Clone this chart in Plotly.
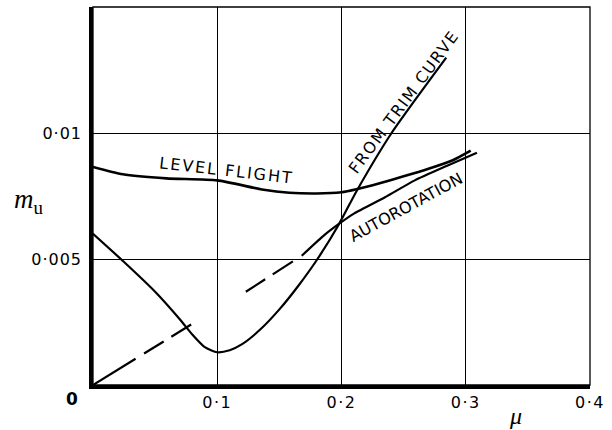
import plotly.graph_objects as go

# ---- data ----
level_x = [0, 0.024, 0.059, 0.1, 0.136, 0.158, 0.18, 0.2, 0.212, 0.23, 0.25, 0.27, 0.29, 0.304]
level_y = [0.00865, 0.00836, 0.0082, 0.00812, 0.00776, 0.00763, 0.00760, 0.00765, 0.00777, 0.00800, 0.00828, 0.00858, 0.00893, 0.0093]

trim_x = [0, 0.025, 0.05, 0.07, 0.08, 0.09, 0.1, 0.11, 0.12, 0.135, 0.15, 0.165, 0.18, 0.1976, 0.2122, 0.2403, 0.2843]
trim_y = [0.0060, 0.00488, 0.0037, 0.0026, 0.0020, 0.0015, 0.0013, 0.00138, 0.00162, 0.00222, 0.0030, 0.00392, 0.00495, 0.00635, 0.0077, 0.0100, 0.01299]

auto_dash1_x = [0, 0.079]
auto_dash1_y = [0, 0.0024]
auto_dash2_x = [0.123, 0.168]
auto_dash2_y = [0.0037, 0.00513]
auto_x = [0.168, 0.185, 0.1976, 0.21, 0.235, 0.259, 0.285, 0.309]
auto_y = [0.00513, 0.0059, 0.00638, 0.0068, 0.00745, 0.00812, 0.0087, 0.00922]

x_ticks = [0.1, 0.2, 0.3, 0.4]
x_ticktext = ["0·1", "0·2", "0·3", "0·4"]
y_ticks = [0.005, 0.01]
y_ticktext = ["0·005", "0·01"]

FONT = "DejaVu Sans"
BLACK = "#000000"


def spaced(t, px):
    return '<span style="letter-spacing:%spx">%s</span>' % (px, t)


fig = go.Figure()

fig.add_trace(go.Scatter(x=level_x, y=level_y, mode="lines",
                         line=dict(color=BLACK, width=2.6, shape="spline", smoothing=0.6)))
fig.add_trace(go.Scatter(x=trim_x, y=trim_y, mode="lines",
                         line=dict(color=BLACK, width=2.2, shape="spline", smoothing=0.6)))
fig.add_trace(go.Scatter(x=auto_dash1_x, y=auto_dash1_y, mode="lines",
                         line=dict(color=BLACK, width=2.2, dash="50px,10px,23px,9px,24px")))
fig.add_trace(go.Scatter(x=auto_dash2_x, y=auto_dash2_y, mode="lines",
                         line=dict(color=BLACK, width=2.2, dash="23px,9px,24px,12px")))
fig.add_trace(go.Scatter(x=auto_x, y=auto_y, mode="lines",
                         line=dict(color=BLACK, width=2.2, shape="spline", smoothing=0.6)))

label_font = dict(family=FONT, size=16, color=BLACK)
fig.add_annotation(x=0.1076, y=0.00852, text=spaced("LEVEL FLIGHT", 2),
                   showarrow=False, textangle=6.6, font=label_font,
                   xanchor="center", yanchor="middle")
fig.add_annotation(x=0.2496, y=0.01123, text=spaced("FROM TRIM CURVE", 1.5),
                   showarrow=False, textangle=-53.5, font=label_font,
                   xanchor="center", yanchor="middle")
fig.add_annotation(x=0.2516, y=0.00704, text="AUTOROTATION",
                   showarrow=False, textangle=-28.5, font=label_font,
                   xanchor="center", yanchor="middle")

# origin label and axis titles
fig.add_annotation(x=0, y=0, text="<b>0</b>", showarrow=False,
                   font=dict(family=FONT, size=17, color=BLACK),
                   xanchor="center", yanchor="middle", xshift=-21, yshift=-14)
fig.add_annotation(x=0.34, y=0, text="<i>μ</i>", showarrow=False,
                   font=dict(family="Liberation Serif", size=24, color=BLACK),
                   xanchor="center", yanchor="middle", yshift=-31)
fig.add_annotation(x=0, xref="paper", y=0.00731, text="<i>m</i><sub>u</sub>", showarrow=False,
                   font=dict(family="Liberation Serif", size=27, color=BLACK),
                   xanchor="center", yanchor="middle", xshift=-64)

# thin frame on top and right
fig.add_shape(type="rect", xref="paper", yref="paper", x0=0, y0=0, x1=1, y1=1,
              line=dict(color=BLACK, width=1.3), layer="above")

fig.update_xaxes(range=[0, 0.4], tickvals=x_ticks,
                 ticktext=[spaced(t, 1.5) for t in x_ticktext],
                 showgrid=True, gridcolor=BLACK, gridwidth=1.3,
                 showline=True, linecolor=BLACK, linewidth=3.5,
                 zeroline=False, ticks="", ticklabelstandoff=0,
                 tickfont=dict(family=FONT, size=16, color=BLACK))
fig.update_yaxes(range=[0, 0.015], tickvals=y_ticks,
                 ticktext=[spaced(t, 1) for t in y_ticktext],
                 showgrid=True, gridcolor=BLACK, gridwidth=1.3,
                 showline=True, linecolor=BLACK, linewidth=3.5,
                 zeroline=False, ticks="", ticklabelstandoff=4,
                 tickfont=dict(family=FONT, size=16, color=BLACK))

fig.update_layout(width=612, height=430,
                  margin=dict(l=93, r=19, t=7, b=45),
                  paper_bgcolor="white", plot_bgcolor="white",
                  showlegend=False)

fig.write_html("out.html")
